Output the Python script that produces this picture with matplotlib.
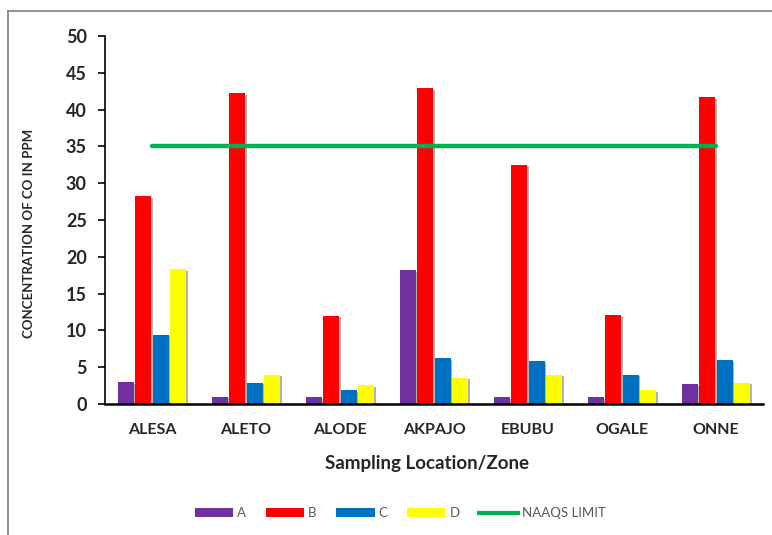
import matplotlib
matplotlib.use("Agg")
import matplotlib.pyplot as plt
import numpy as np
from matplotlib.patches import Patch
from matplotlib.lines import Line2D
import matplotlib.patheffects as pe

plt.rcParams['font.family'] = ['Lato', 'DejaVu Sans']

locations = ["ALESA", "ALETO", "ALODE", "AKPAJO", "EBUBU", "OGALE", "ONNE"]
series_a = [3.0, 1.0, 0.9, 18.2, 0.9, 0.9, 2.7]
series_b = [28.2, 42.2, 12.0, 42.9, 32.5, 12.1, 41.7]
series_c = [9.4, 2.9, 1.9, 6.2, 5.8, 4.0, 6.0]
series_d = [18.3, 4.0, 2.6, 3.6, 4.0, 1.9, 2.9]
naaqs_limit = 35
yticks = [0, 5, 10, 15, 20, 25, 30, 35, 40, 45, 50]

series = [("A", series_a, "#7030A0"),
          ("B", series_b, "#FF0000"),
          ("C", series_c, "#0070C0"),
          ("D", series_d, "#FFFF00")]
line_color = "#00B050"

fig = plt.figure(figsize=(7.72, 5.35), dpi=100)
ax = fig.add_axes([105 / 772, 1 - 404 / 535, (763 - 105) / 772, (404 - 36) / 535])

x = np.arange(len(locations))
slot = 0.185
width = 0.172
shadow = [pe.SimplePatchShadow(offset=(1.2, -1.2), shadow_rgbFace="#7f7f7f", alpha=0.6), pe.Normal()]
for i, (name, vals, color) in enumerate(series):
    offs = (i - 1.5) * slot
    ax.bar(x + offs, vals, width=width, color=color, zorder=2, path_effects=shadow)

ax.plot([x[0], x[-1]], [naaqs_limit, naaqs_limit], color=line_color, lw=3.2,
        solid_capstyle="round", zorder=3)

ax.set_xlim(-0.5, len(locations) - 0.5)
ax.set_ylim(0, 50)
ax.set_yticks(yticks)
ax.set_yticklabels([str(v) for v in yticks], fontsize=13, fontweight="bold", color="#262626")
ax.set_xticks(x)
ax.set_xticklabels(locations, fontsize=11.5, fontweight="bold", color="#262626")
ax.tick_params(axis="x", length=0, pad=14)
ax.tick_params(axis="y", direction="out", length=5, width=1.2, pad=8)
for s in ["top", "right"]:
    ax.spines[s].set_visible(False)
ax.spines["left"].set_linewidth(1.2)
ax.spines["bottom"].set_linewidth(1.8)

fig.text(427 / 772, 1 - 463 / 535, "Sampling Location/Zone", ha="center", va="center",
         fontsize=13.5, fontweight="bold", color="#262626")
fig.text(29 / 772, 1 - 233 / 535, "CONCENTRATION OF CO IN PPM", ha="center", va="center",
         rotation=90, fontsize=9.5, fontweight="bold", color="#262626")

handles = [Patch(facecolor=c, edgecolor="none") for _, _, c in series]
handles.append(Line2D([0], [0], color=line_color, lw=3))
labels = [n for n, _, _ in series] + ["NAAQS LIMIT"]
fig.legend(handles, labels, loc="center", bbox_to_anchor=(400 / 772, 1 - 513 / 535),
           ncol=5, frameon=False, fontsize=9.5, labelcolor="#595959",
           handlelength=2.9, handleheight=0.6, handletextpad=0.3, columnspacing=1.5)

# outer frame: left and top edges
fig.add_artist(Line2D([8 / 772, 8 / 772], [0, 1 - 11 / 535], transform=fig.transFigure,
                      color="#7f7f7f", lw=1.2))
fig.add_artist(Line2D([8 / 772, 1], [1 - 11 / 535, 1 - 11 / 535], transform=fig.transFigure,
                      color="#7f7f7f", lw=1.2))

fig.savefig("out.png", dpi=100)
